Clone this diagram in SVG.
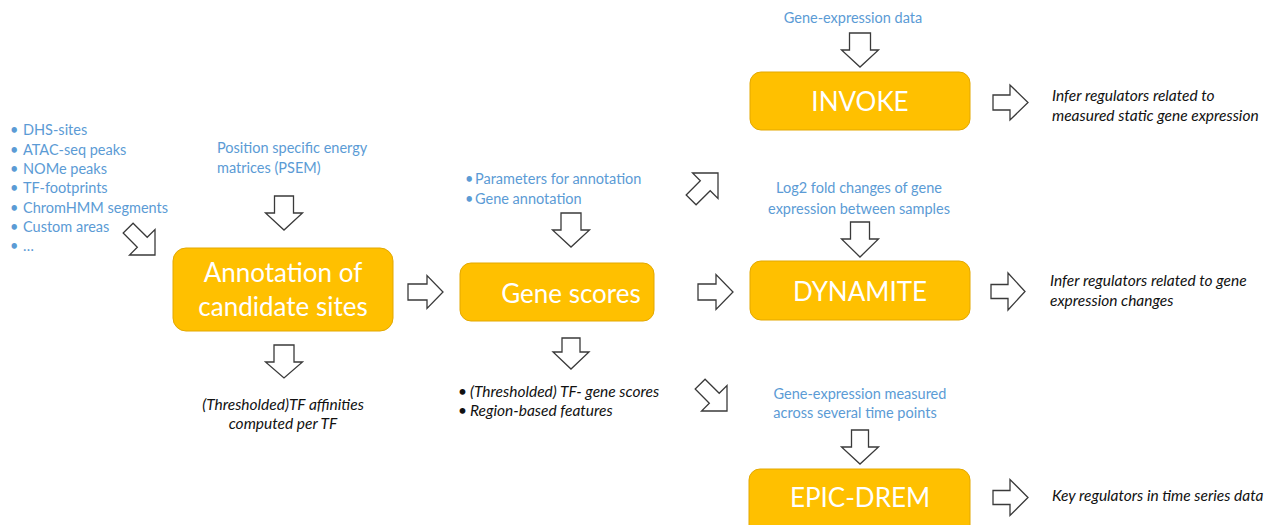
<svg xmlns="http://www.w3.org/2000/svg" width="1278" height="525" viewBox="0 0 1278 525">
<style>
.box{fill:#FFC000;stroke:#E3A800;stroke-width:1}
.bt{font-family:Lato,"Open Sans","Liberation Sans",sans-serif;font-size:26px;fill:#FFFFFF;text-anchor:middle}
.arr{fill:#FFFFFF;stroke:#3A3A3A;stroke-width:1.3;stroke-linejoin:miter}
.blue{font-family:Lato,"Open Sans","Liberation Sans",sans-serif;font-size:14.5px;fill:#5B9BD5}
.out{font-family:Lato,"Open Sans","Liberation Sans",sans-serif;font-size:15.5px;font-style:italic;fill:#111111}
.c{text-anchor:middle}
</style>
<defs>
<polygon id="diag" points="-38,-7 -18,-7 -18,-18 0,0 -18,18 -18,7 -38,7"/>
</defs>
<rect width="1278" height="525" fill="#FFFFFF"/>

<g id="connectors">
<polygon class="arr" points="274.5,196 293.5,196 293.5,213 302.5,213 284,230 265.5,213 274.5,213"/>
<polygon class="arr" points="561,213 581,213 581,230 589.5,230 571,247 552.5,230 561,230"/>
<polygon class="arr" points="849.5,33 870.5,33 870.5,50 878.5,50 860,67 841.5,50 849.5,50"/>
<polygon class="arr" points="850.5,222 869.5,222 869.5,239 878.5,239 860,257 841.5,239 850.5,239"/>
<polygon class="arr" points="851.5,430 868.5,430 868.5,447 878.5,447 860,464 841.5,447 851.5,447"/>
<polygon class="arr" points="274,345 294,345 294,362 302.5,362 284,378 265.5,362 274,362"/>
<polygon class="arr" points="562,338 580,338 580,352 589,352 571,369 553,352 562,352"/>
<polygon class="arr" points="408,284 427,284 427,275.5 443,292 427,308.5 427,300 408,300"/>
<polygon class="arr" points="698,284 716,284 716,274.5 733,292 716,309.5 716,300 698,300"/>
<polygon class="arr" points="993,95 1010,95 1010,85 1028,102.5 1010,120 1010,110 993,110"/>
<polygon class="arr" points="991,284.5 1008,284.5 1008,273 1025,291.5 1008,310 1008,298.5 991,298.5"/>
<polygon class="arr" points="993,490.5 1010,490.5 1010,479.5 1028,497.5 1010,515.5 1010,504.5 993,504.5"/>
<use href="#diag" class="arr" transform="translate(155,255) rotate(45)"/>
<use href="#diag" class="arr" transform="translate(718,173) rotate(-45)"/>
<use href="#diag" class="arr" transform="translate(727,411) rotate(45)"/>
</g>

<g id="inputs-left">
<text class="blue" x="10" y="135">• <tspan x="23">DHS-sites</tspan></text>
<text class="blue" x="10" y="155">• <tspan x="23">ATAC-seq peaks</tspan></text>
<text class="blue" x="10" y="174">• <tspan x="23">NOMe peaks</tspan></text>
<text class="blue" x="10" y="193">• <tspan x="23">TF-footprints</tspan></text>
<text class="blue" x="10" y="213">• <tspan x="23">ChromHMM  segments</tspan></text>
<text class="blue" x="10" y="232">• <tspan x="23">Custom areas</tspan></text>
<text class="blue" x="10" y="251">• <tspan x="23">…</tspan></text>
</g>

<g id="psem">
<text class="blue" x="217" y="153">Position specific energy</text>
<text class="blue" x="217" y="173">matrices (PSEM)</text>
</g>

<g id="annotation">
<rect class="box" x="173" y="248" width="220" height="83" rx="13"/>
<text class="bt" x="283" y="282">Annotation of</text>
<text class="bt" x="283" y="316">candidate sites</text>
</g>

<g id="affinities">
<text class="out c" x="283" y="410">(Thresholded)TF affinities</text>
<text class="out c" x="283" y="429">computed per TF</text>
</g>

<g id="params">
<text class="blue" x="465" y="184">• <tspan x="475">Parameters for annotation</tspan></text>
<text class="blue" x="465" y="204">• <tspan x="475">Gene annotation</tspan></text>
</g>

<g id="gene-scores">
<rect class="box" x="460" y="263" width="194" height="58" rx="11"/>
<text class="bt" x="571" y="303">Gene scores</text>
</g>

<g id="gene-scores-out">
<text class="out" x="458" y="397">• <tspan x="470">(Thresholded) TF- gene scores</tspan></text>
<text class="out" x="458" y="416">• <tspan x="470">Region-based features</tspan></text>
</g>

<g id="invoke-input">
<text class="blue c" x="853" y="23">Gene-expression data</text>
</g>
<g id="invoke">
<rect class="box" x="750" y="72" width="220" height="58" rx="11"/>
<text class="bt" x="860" y="111">INVOKE</text>
</g>
<g id="invoke-out">
<text class="out" x="1052" y="101">Infer regulators related to</text>
<text class="out" x="1052" y="121">measured static gene expression</text>
</g>

<g id="dynamite-input">
<text class="blue c" x="859" y="193">Log2  fold changes of gene</text>
<text class="blue c" x="859" y="214">expression between samples</text>
</g>
<g id="dynamite">
<rect class="box" x="750" y="261" width="220" height="59" rx="11"/>
<text class="bt" x="860" y="301">DYNAMITE</text>
</g>
<g id="dynamite-out">
<text class="out" x="1050" y="286">Infer regulators related to gene</text>
<text class="out" x="1050" y="306">expression changes</text>
</g>

<g id="epic-input">
<text class="blue c" x="860" y="399">Gene-expression measured</text>
<text class="blue c" x="855" y="418">across several time points</text>
</g>
<g id="epic-drem">
<rect class="box" x="749" y="469" width="221" height="70" rx="11"/>
<text class="bt" x="860" y="507">EPIC-DREM</text>
</g>
<g id="epic-out">
<text class="out" x="1052" y="501">Key regulators in time series data</text>
</g>
</svg>
